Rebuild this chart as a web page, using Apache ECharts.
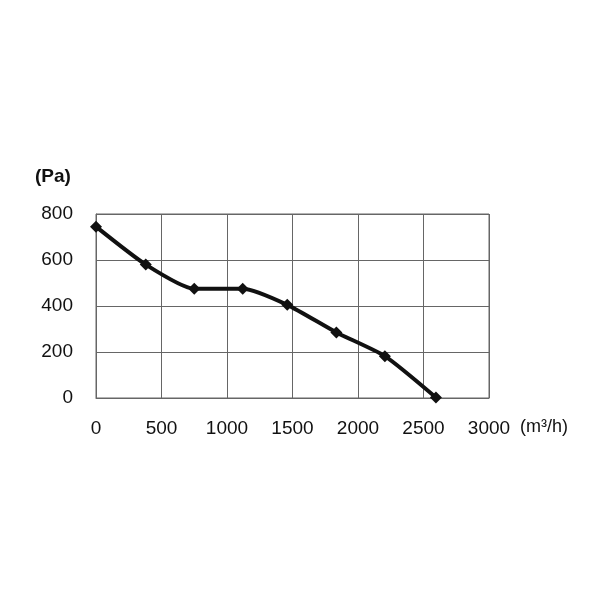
<!DOCTYPE html>
<html>
<head>
<meta charset="utf-8">
<script src="https://cdn.jsdelivr.net/npm/echarts@6/dist/echarts.min.js"></script>
<style>
  html, body { margin: 0; padding: 0; background: #fff; }
  #chart { width: 600px; height: 600px; }
</style>
</head>
<body>
<div id="chart"></div>
<script>
// 风量 / 静压 曲线
const airflow = [0, 380, 750, 1120, 1460, 1835, 2205, 2595];
const pressure = [745, 580, 475, 475, 405, 285, 182, 2];
const xTicks = [0, 500, 1000, 1500, 2000, 2500, 3000];
const yTicks = [0, 200, 400, 600, 800];

const chart = echarts.init(document.getElementById('chart'));
const gridColor = '#666';
const textColor = '#111';

chart.setOption({
  animation: false,
  grid: { left: 96, top: 214, right: 111, bottom: 202, show: true, borderColor: gridColor, borderWidth: 1 },
  xAxis: {
    type: 'value',
    min: xTicks[0],
    max: xTicks[xTicks.length - 1],
    interval: 500,
    axisLine: { show: true, lineStyle: { color: gridColor, width: 1 } },
    axisTick: { show: false },
    axisLabel: { color: textColor, fontSize: 19, fontFamily: 'Liberation Sans', margin: 21, formatter: v => String(v) },
    splitLine: { show: true, lineStyle: { color: gridColor, width: 1 } },
  },
  yAxis: {
    type: 'value',
    min: yTicks[0],
    max: yTicks[yTicks.length - 1],
    interval: 200,
    axisLine: { show: true, lineStyle: { color: gridColor, width: 1 } },
    axisTick: { show: false },
    axisLabel: { color: textColor, fontSize: 19, fontFamily: 'Liberation Sans', margin: 23, formatter: v => String(v) },
    splitLine: { show: true, lineStyle: { color: gridColor, width: 1 } },
  },
  graphic: [
    { type: 'text', left: 35, top: 167, style: { text: '(Pa)', fontSize: 19, fontWeight: 'bold', fontFamily: 'Liberation Sans', fill: textColor } },
    { type: 'text', left: 520, top: 418, style: { text: '(m³/h)', fontSize: 18, fontFamily: 'Liberation Sans', fill: textColor } },
  ],
  series: [{
    type: 'line',
    data: airflow.map((x, i) => [x, pressure[i]]),
    smooth: 0.2,
    symbol: 'diamond',
    symbolSize: 12,
    lineStyle: { color: '#111', width: 4 },
    itemStyle: { color: '#111' },
  }],
});
</script>
</body>
</html>
